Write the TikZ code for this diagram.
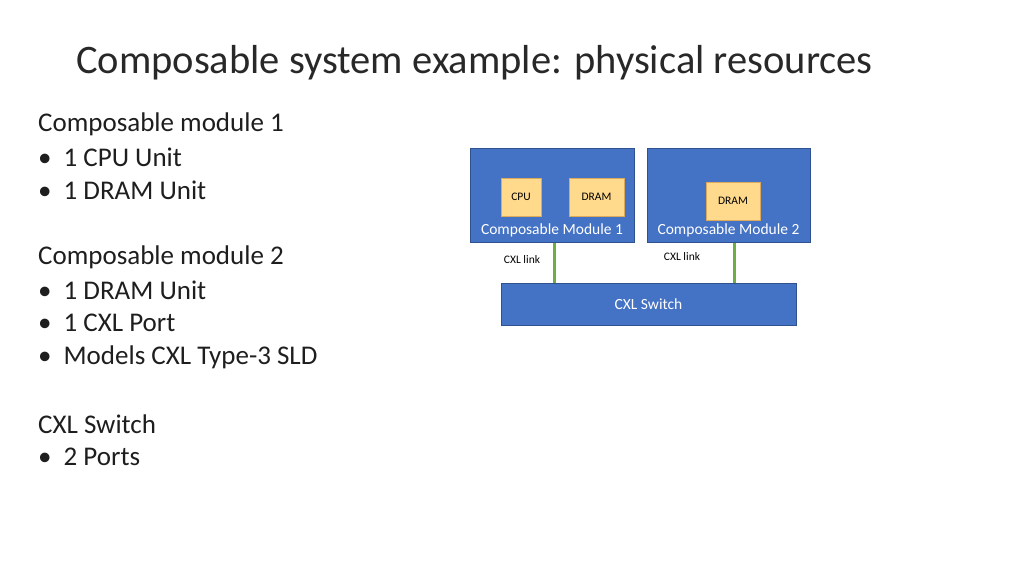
\documentclass[tikz,border=0pt]{standalone}
\usepackage{fontspec}
\setmainfont{Carlito}
\begin{document}
\begin{tikzpicture}[x=1pt,y=-1pt,
  blk/.style={fill={rgb,255:red,68;green,114;blue,196},draw={rgb,255:red,47;green,82;blue,143},line width=0.7pt},
  unit/.style={fill={rgb,255:red,255;green,217;blue,140},draw={rgb,255:red,220;green,170;blue,90},line width=0.5pt},
  lnk/.style={draw={rgb,255:red,112;green,173;blue,71},line width=3pt},
  wl/.style={text=white,font=\fontsize{15.5}{18}\selectfont},
  sl/.style={font=\fontsize{11.5}{14}\selectfont},
  body/.style={anchor=west,font=\fontsize{27}{32}\selectfont,text={rgb,255:red,30;green,30;blue,30}}]
\useasboundingbox (0,0) rectangle (1024,563);
\node[anchor=west,inner sep=0pt,font=\fontsize{40.5}{46}\selectfont,text={rgb,255:red,40;green,40;blue,40}] (title) at (76,63) {Composable system example: physical resources};
\node[body,inner sep=0pt] (t1) at (38,124) {Composable module 1};
\node[body,inner sep=0pt] (t2) at (38,157) {\textbullet\hspace{12pt}1 CPU Unit};
\node[body,inner sep=0pt] (t3) at (38,190) {\textbullet\hspace{12pt}1 DRAM Unit};
\node[body,inner sep=0pt] (t4) at (38,257) {Composable module 2};
\node[body,inner sep=0pt] (t5) at (38,290) {\textbullet\hspace{12pt}1 DRAM Unit};
\node[body,inner sep=0pt] (t6) at (38,323) {\textbullet\hspace{12pt}1 CXL Port};
\node[body,inner sep=0pt] (t7) at (38,357) {\textbullet\hspace{12pt}Models CXL Type-3 SLD};
\node[body,inner sep=0pt] (t8) at (38,424) {CXL Switch};
\node[body,inner sep=0pt] (t9) at (38,457) {\textbullet\hspace{12pt}2 Ports};
\draw[blk] (470,148) rectangle (634,242);
\draw[blk] (647,148) rectangle (810,242);
\draw[blk] (501,283) rectangle (796,325);
\node[unit,minimum width=40pt,minimum height=38pt,sl] (cpu) at (521,197) {CPU};
\node[unit,minimum width=55pt,minimum height=38pt,sl] (dram1) at (596.5,197) {DRAM};
\node[unit,minimum width=54pt,minimum height=38pt,sl] (dram2) at (733,201) {DRAM};
\node[wl] (m1) at (552,230) {Composable Module 1};
\node[wl] (m2) at (728.5,230) {Composable Module 2};
\node[wl] (sw) at (648.5,304) {CXL Switch};
\coordinate (a1) at (554,243); \coordinate (b1) at (554,283);
\coordinate (a2) at (734,243); \coordinate (b2) at (734,283);
\draw[lnk] (a1) -- (b1);
\draw[lnk] (a2) -- (b2);
\node[sl] (l1) at (522,260) {CXL link};
\node[sl] (l2) at (682,257) {CXL link};
\end{tikzpicture}
\end{document}
